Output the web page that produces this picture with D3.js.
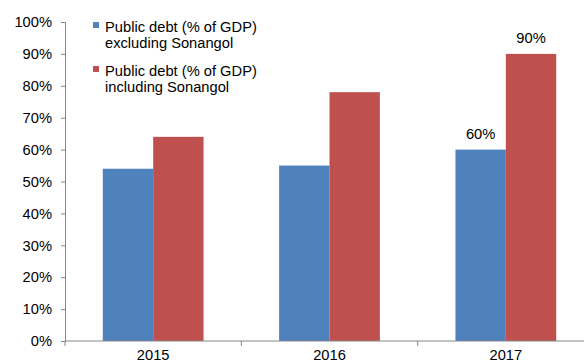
<!DOCTYPE html>
<html>
<head>
<meta charset="utf-8">
<script src="https://cdn.jsdelivr.net/npm/d3@7"></script>
<style>
  body { margin: 0; background: #fff; }
  text { font-family: "Liberation Sans", Arial, sans-serif; fill: #000; }
</style>
</head>
<body>
<svg id="chart" width="584" height="362"></svg>
<script>
// chart data
const years = ["2015", "2016", "2017"];
const seriesNames = ["Public debt (% of GDP)|excluding Sonangol", "Public debt (% of GDP)|including Sonangol"];
const excluding = [54, 55, 60];
const including = [64, 78, 90];
const yTicks = [0, 10, 20, 30, 40, 50, 60, 70, 80, 90, 100];
const colors = ["#4F81BD", "#C0504D"];

const fontSize = "14.7px";
const svg = d3.select("#chart");
const plotLeft = 65, plotRight = 594, plotTop = 22, plotBottom = 341;

const x = d3.scaleBand().domain(years).range([plotLeft, plotRight]);
const sub = d3.scaleBand().domain([0, 1]).range([0, x.bandwidth()]).paddingOuter(0.75).paddingInner(0);
const y = d3.scaleLinear().domain([0, 100]).range([plotBottom, plotTop]);

// y axis
const yAxis = svg.append("g").attr("transform", `translate(${plotLeft},0)`)
  .call(d3.axisLeft(y).tickValues(yTicks).tickSize(4).tickPadding(9).tickFormat(d => d + "%"));
yAxis.selectAll("line, path").attr("stroke", "#868686");
yAxis.selectAll("text").style("font-size", fontSize).attr("fill", "#000");

// bars
const data = years.map((yr, i) => ({ yr, vals: [excluding[i], including[i]] }));
const groups = svg.selectAll("g.grp").data(data).join("g").attr("class", "grp")
  .attr("transform", d => `translate(${x(d.yr)},0)`);
groups.selectAll("rect").data(d => d.vals.map((v, k) => ({ v, k }))).join("rect")
  .attr("x", d => sub(d.k))
  .attr("width", sub.bandwidth())
  .attr("y", d => y(d.v))
  .attr("height", d => y(0) - y(d.v))
  .attr("fill", d => colors[d.k]);

// labels on 2017
const last = data[data.length - 1];
last.vals.forEach((v, k) => {
  svg.append("text")
    .attr("x", x(last.yr) + sub(k) + sub.bandwidth() / 2)
    .attr("y", y(v) - 11)
    .attr("text-anchor", "middle")
    .style("font-size", fontSize)
    .text(v + "%");
});

// x axis
const xAxis = svg.append("g").attr("transform", `translate(0,${plotBottom})`)
  .call(d3.axisBottom(x).tickSize(0).tickPadding(9));
xAxis.select(".domain").attr("stroke", "#868686").attr("d", `M${plotLeft},0H${plotRight}`);
xAxis.selectAll("text").style("font-size", fontSize).attr("fill", "#000");
xAxis.selectAll(".sep").data(years.concat(["end"])).join("line").attr("class", "sep")
  .attr("x1", (d, i) => plotLeft + i * x.step()).attr("x2", (d, i) => plotLeft + i * x.step())
  .attr("y1", 0).attr("y2", 5).attr("stroke", "#868686");

// legend
const legend = svg.append("g");
seriesNames.forEach((name, k) => {
  const g = legend.append("g").attr("transform", `translate(93,${22 + k * 44})`);
  g.append("rect").attr("width", 6).attr("height", 6).attr("fill", colors[k]);
  name.split("|").forEach((line, j) => {
    g.append("text").attr("x", 12).attr("y", 9.5 + j * 16).style("font-size", fontSize).text(line);
  });
});
</script>
</body>
</html>
